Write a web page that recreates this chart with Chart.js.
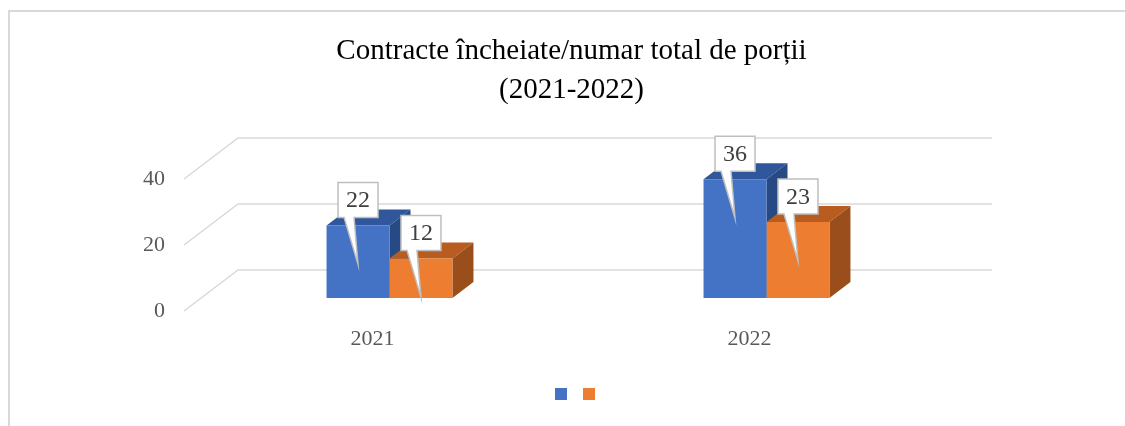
<!DOCTYPE html>
<html>
<head>
<meta charset="utf-8">
<script src="https://cdn.jsdelivr.net/npm/chart.js@4.4.1/dist/chart.umd.min.js"></script>
<style>
    html, body { margin: 0; padding: 0; background: #fff; overflow: hidden; }
    .chart-box {
        position: absolute;
        left: 8px;
        top: 10px;
        width: 1123px;
        height: 420px;
        border: 2px solid #d9d9d9;
    }
</style>
</head>
<body>
<div class="chart-box"><canvas id="contractsChart"></canvas></div>
<script>
// Chart data
const years = ['2021', '2022'];
const contractsBlue = [22, 36];
const contractsOrange = [12, 23];
const yTickValues = [0, 20, 40];
const titleLines = ['Contracte încheiate/numar total de porții', '(2021-2022)'];

// 3D look: depth of a bar, and where the front / back wall sit relative to the bar plane
const DEPTH_X = 21, DEPTH_Y = 16;
const FRONT = { x: -17, y: 13 };
const BACK = { x: 37, y: -28 };
const faceColors = [
    { top: '#30579b', side: '#284a84' },
    { top: '#b85d1f', side: '#9a4e1b' }
];

const threeD = {
    id: 'threeD',
    beforeDatasetsDraw(chart) {
        const { ctx, chartArea, scales } = chart;
        const y = scales.y;
        ctx.save();

        // gridlines: floor diagonal + back wall line
        ctx.strokeStyle = '#d9d9d9';
        ctx.lineWidth = 1.5;
        y.ticks.forEach(t => {
            const py = y.getPixelForValue(t.value);
            ctx.beginPath();
            ctx.moveTo(chartArea.left + FRONT.x, py + FRONT.y);
            ctx.lineTo(chartArea.left + BACK.x, py + BACK.y);
            ctx.lineTo(chartArea.right + BACK.x, py + BACK.y);
            ctx.stroke();
        });

        // top and side faces, in series order so later ones sit in front
        chart.data.datasets.forEach((ds, i) => {
            chart.getDatasetMeta(i).data.forEach(bar => {
                const l = bar.x - bar.width / 2;
                const r = bar.x + bar.width / 2;
                ctx.fillStyle = faceColors[i].top;
                ctx.beginPath();
                ctx.moveTo(l, bar.y);
                ctx.lineTo(l + DEPTH_X, bar.y - DEPTH_Y);
                ctx.lineTo(r + DEPTH_X, bar.y - DEPTH_Y);
                ctx.lineTo(r, bar.y);
                ctx.closePath();
                ctx.fill();

                ctx.fillStyle = faceColors[i].side;
                ctx.beginPath();
                ctx.moveTo(r, bar.y);
                ctx.lineTo(r + DEPTH_X, bar.y - DEPTH_Y);
                ctx.lineTo(r + DEPTH_X, bar.base - DEPTH_Y);
                ctx.lineTo(r, bar.base);
                ctx.closePath();
                ctx.fill();
            });
        });
        ctx.restore();
    },
    afterDatasetsDraw(chart) {
        const { ctx } = chart;
        ctx.save();
        // callout data labels
        chart.data.datasets.forEach((ds, i) => {
            chart.getDatasetMeta(i).data.forEach((bar, j) => {
                const cx = bar.x;
                const bottom = bar.y - 8;
                const top = bottom - 35;
                ctx.beginPath();
                ctx.moveTo(cx - 20, top);
                ctx.lineTo(cx + 20, top);
                ctx.lineTo(cx + 20, bottom);
                ctx.lineTo(cx - 4, bottom);
                ctx.lineTo(cx, bottom + 47);
                ctx.lineTo(cx - 14, bottom);
                ctx.lineTo(cx - 20, bottom);
                ctx.closePath();
                ctx.fillStyle = '#ffffff';
                ctx.fill();
                ctx.strokeStyle = '#bfbfbf';
                ctx.lineWidth = 1.5;
                ctx.stroke();

                ctx.fillStyle = '#404040';
                ctx.font = '24px "Liberation Serif"';
                ctx.textAlign = 'center';
                ctx.textBaseline = 'middle';
                ctx.fillText(String(ds.data[j]), cx, (top + bottom) / 2 + 1);
            });
        });
        ctx.restore();
    }
};

Chart.defaults.font.family = '"Liberation Serif", "Times New Roman", serif';

const tickFont = { family: '"Liberation Serif", serif', size: 22 };

new Chart(document.getElementById('contractsChart'), {
    type: 'bar',
    data: {
        labels: years,
        datasets: [
            { label: '', data: contractsBlue, backgroundColor: '#4472c4' },
            { label: '', data: contractsOrange, backgroundColor: '#ed7d31' }
        ]
    },
    options: {
        responsive: true,
        maintainAspectRatio: false,
        animation: false,
        datasets: {
            bar: { categoryPercentage: 0.334, barPercentage: 1, borderWidth: 0 }
        },
        layout: { padding: { top: 0, left: 0, right: 0, bottom: 22 } },
        plugins: {
            title: {
                display: true,
                text: titleLines,
                color: '#000000',
                font: { family: '"Liberation Serif", serif', size: 29, weight: 'normal', lineHeight: 1.345 },
                padding: { top: 20, bottom: 56 }
            },
            legend: {
                display: true,
                position: 'bottom',
                fullSize: false,
                labels: { boxWidth: 12, boxHeight: 12, padding: 10, font: { size: 12 } }
            },
            tooltip: { enabled: false }
        },
        scales: {
            x: {
                grid: { display: false, drawTicks: false },
                border: { display: false },
                ticks: { labelOffset: -17, padding: 28, color: '#595959', font: tickFont },
                afterFit(s) { s.height = 80; }
            },
            y: {
                min: 0,
                max: 40,
                grid: { display: false, drawTicks: false },
                border: { display: false },
                ticks: { labelOffset: 13, padding: 36, color: '#595959', font: tickFont },
                afterBuildTicks(s) { s.ticks = yTickValues.map(v => ({ value: v })); },
                afterFit(s) { s.width = 191; }
            },
            // empty right-hand axis that only reserves space on the right
            y2: {
                position: 'right',
                grid: { display: false, drawTicks: false },
                border: { display: false },
                ticks: { display: false },
                afterFit(s) { s.width = 178; }
            }
        }
    },
    plugins: [threeD]
});
</script>
</body>
</html>
